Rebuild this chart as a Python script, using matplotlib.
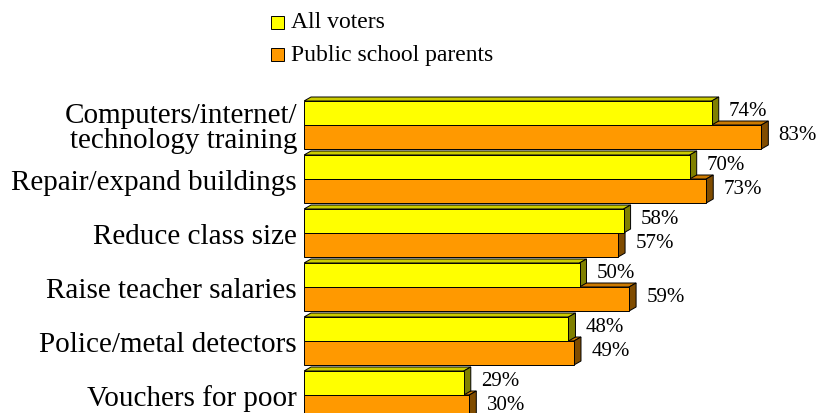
import matplotlib
matplotlib.use('Agg')
import matplotlib.pyplot as plt
from matplotlib.patches import Polygon, Rectangle
from matplotlib.transforms import IdentityTransform

categories = ['Computers/internet/\ntechnology training', 'Repair/expand buildings',
              'Reduce class size', 'Raise teacher salaries',
              'Police/metal detectors', 'Vouchers for poor']
all_voters = [74, 70, 58, 50, 48, 29]
parents = [83, 73, 57, 59, 49, 30]
series_names = ['All voters', 'Public school parents']

front_cols = ['#FFFF00', '#FF9900']
top_cols = ['#CCCC00', '#CC7A00']
side_cols = ['#808000', '#804C00']

plt.rcParams['font.family'] = 'Liberation Serif'

W, H = 817, 414
fig = plt.figure(figsize=(W / 100, H / 100), dpi=100)
ax = fig.add_axes([304 / W, 0, 1 - 304 / W, 1])
ax.set_xlim(0, (W - 304) / 5.51)
ax.set_ylim((H - 126) / 54, -126 / 54)
for s in ax.spines.values():
    s.set_visible(False)
ax.set_xticks([])
ax.set_yticks(range(len(categories)))
ax.set_yticklabels(categories, fontsize=21, linespacing=0.95)
ax.tick_params(axis='y', length=0, pad=5)

h = 24 / 54
DX, DY = 7, 4
ident = IdentityTransform()


def bar3d(yc, val, k, z):
    ax.barh(yc, val, height=h, color=front_cols[k], edgecolor='black', linewidth=0.7, zorder=z + 0.2)
    xl, yt = ax.transData.transform((0, yc - h / 2))
    xr, yb = ax.transData.transform((val, yc + h / 2))
    top = Polygon([(xl, yt), (xr, yt), (xr + DX, yt + DY), (xl + DX, yt + DY)], closed=True,
                  transform=ident, facecolor=top_cols[k], edgecolor='black', linewidth=0.7, zorder=z)
    side = Polygon([(xr, yt), (xr, yb), (xr + DX, yb + DY), (xr + DX, yt + DY)], closed=True,
                   transform=ident, facecolor=side_cols[k], edgecolor='black', linewidth=0.7, zorder=z + 0.1)
    ax.add_patch(top)
    ax.add_patch(side)
    ax.annotate(f'{val}%', xy=(val, yc), xytext=(12.5, 1.5), textcoords='offset points',
                ha='left', va='center', fontsize=15, zorder=5)


for i in range(len(categories)):
    bar3d(i + h / 2, parents[i], 1, 2)
    bar3d(i - h / 2, all_voters[i], 0, 3)

# legend
for k, (name, yc) in enumerate(zip(series_names, [23, 55])):
    fig.patches.append(Rectangle((271 / W, 1 - (yc + 6.5) / H), 13 / W, 13 / H,
                                 transform=fig.transFigure, facecolor=front_cols[k],
                                 edgecolor='black', linewidth=0.7))
    fig.text(291 / W, 1 - yc / H, name, ha='left', va='center', fontsize=17)

fig.savefig('out.png', dpi=100)
